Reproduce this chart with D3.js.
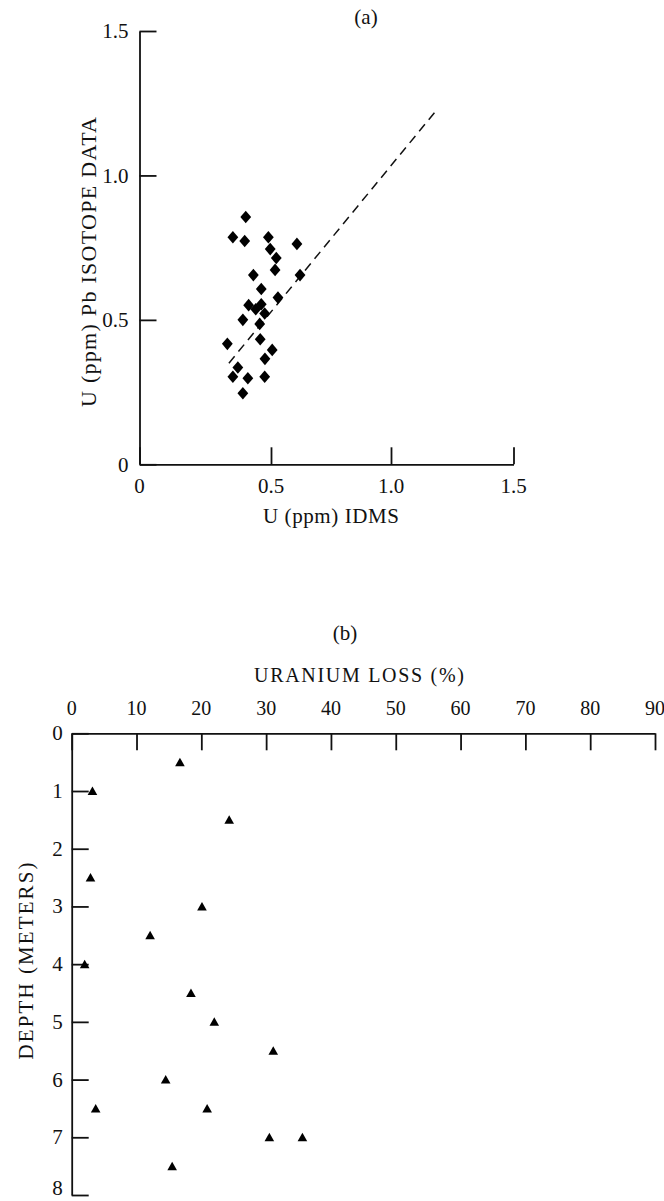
<!DOCTYPE html>
<html>
<head>
<meta charset="utf-8">
<script src="https://cdn.jsdelivr.net/npm/d3@7"></script>
<style>
  body { margin: 0; background: #fff; }
  svg { display: block; }
  text { font-family: "Liberation Serif", "Times New Roman", serif; fill: #111; }
  .axis path, .axis line { stroke: #111; stroke-width: 1.8; }
</style>
</head>
<body>
<svg id="fig" width="664" height="1201"></svg>
<script>
// ---- Panel (a): U from Pb isotope data vs. U by isotope dilution ----
const idmsU     = [0.404, 0.355, 0.400, 0.490, 0.497, 0.608, 0.522, 0.517, 0.621,
                   0.433, 0.463, 0.529, 0.415, 0.442, 0.463, 0.476, 0.393, 0.457,
                   0.459, 0.334, 0.505, 0.477, 0.374, 0.355, 0.412, 0.476, 0.393];
const isotopeU  = [0.856, 0.786, 0.773, 0.786, 0.745, 0.763, 0.714, 0.673, 0.655,
                   0.655, 0.607, 0.577, 0.551, 0.537, 0.554, 0.522, 0.500, 0.486,
                   0.433, 0.417, 0.396, 0.365, 0.335, 0.303, 0.298, 0.303, 0.246];
const trendX    = [0.34, 1.18];
const trendY    = [0.35, 1.22];
const aTicks    = [0, 0.5, 1.0, 1.5];
const aTickText = ["0", "0.5", "1.0", "1.5"];

// ---- Panel (b): uranium loss with depth ----
const lossPct   = [16.7, 3.2, 24.3, 2.9, 20.1, 12.1, 2.0, 18.4, 22.0, 31.1, 14.5, 3.7, 20.9, 30.5, 35.6, 15.5];
const depthM    = [0.5, 1.0, 1.5, 2.5, 3.0, 3.5, 4.0, 4.5, 5.0, 5.5, 6.0, 6.5, 6.5, 7.0, 7.0, 7.5];
const lossTicks = [0, 10, 20, 30, 40, 50, 60, 70, 80, 90];
const depthTicks = [0, 1, 2, 3, 4, 5, 6, 7, 8];

const W = 664, H = 1201;
const svg = d3.select("#fig");
const TICK = 17;

// ================= Panel (a) =================
// the printed x axis is slightly uneven, so the scale follows each tick
const xa = d3.scaleLinear().domain([0, 0.5, 1.0, 1.5]).range([139.5, 271, 391, 513.5]);
const ya = d3.scaleLinear().domain([0, 1.5]).range([464.3, 31]);

const gA = svg.append("g");

gA.append("g").attr("class", "axis")
  .attr("transform", `translate(${xa(0)},0)`)
  .call(d3.axisRight(ya).tickValues(aTicks).tickSize(TICK).tickSizeOuter(0).tickFormat(""));

gA.append("g").attr("class", "axis")
  .attr("transform", `translate(0,${ya(0)})`)
  .call(d3.axisTop(xa).tickValues(aTicks).tickSize(TICK).tickSizeOuter(0).tickFormat(""));

gA.selectAll("text.ytick").data(aTicks).join("text")
  .attr("class", "ytick")
  .attr("x", xa(0) - 11).attr("y", d => ya(d)).attr("dy", "0.35em")
  .attr("text-anchor", "end").style("font-size", "21px")
  .text((d, i) => aTickText[i]);

gA.selectAll("text.xtick").data(aTicks).join("text")
  .attr("class", "xtick")
  .attr("x", d => xa(d)).attr("y", 493)
  .attr("text-anchor", "middle").style("font-size", "21px")
  .text((d, i) => aTickText[i]);

gA.append("text")
  .attr("x", 366).attr("y", 24).attr("text-anchor", "middle")
  .style("font-size", "21px").text("(a)");

gA.append("text")
  .attr("x", 331).attr("y", 523).attr("text-anchor", "middle")
  .style("font-size", "21px")
  .attr("textLength", 136).attr("lengthAdjust", "spacing")
  .text("U (ppm) IDMS");

gA.append("text")
  .attr("transform", "translate(96,262) rotate(-90)")
  .attr("text-anchor", "middle")
  .style("font-size", "22px")
  .attr("textLength", 290).attr("lengthAdjust", "spacing")
  .text("U (ppm) Pb ISOTOPE DATA");

// dashed trend line
gA.append("line")
  .attr("x1", xa(trendX[0])).attr("y1", ya(trendY[0]))
  .attr("x2", xa(trendX[1])).attr("y2", ya(trendY[1]))
  .attr("stroke", "#111").attr("stroke-width", 1.5)
  .attr("stroke-dasharray", "9 6");

// filled diamonds
const diamond = "M0,-6.3L5.4,0L0,6.3L-5.4,0Z";
gA.selectAll("path.pt").data(idmsU).join("path")
  .attr("class", "pt")
  .attr("d", diamond)
  .attr("transform", (d, i) => `translate(${xa(d)},${ya(isotopeU[i])})`)
  .attr("fill", "#000");

// ================= Panel (b) =================
const xb = d3.scaleLinear().domain([0, 90]).range([71.7, 655]);
const yb = d3.scaleLinear().domain([0, 8]).range([733.3, 1195]);

const gB = svg.append("g");

gB.append("g").attr("class", "axis")
  .attr("transform", `translate(0,${yb(0)})`)
  .call(d3.axisBottom(xb).tickValues(lossTicks).tickSize(TICK).tickSizeOuter(0).tickFormat(""));

gB.append("g").attr("class", "axis")
  .attr("transform", `translate(${xb(0)},0)`)
  .call(d3.axisRight(yb).tickValues(depthTicks).tickSize(TICK).tickSizeOuter(0).tickFormat(""));

gB.selectAll("text.xtick").data(lossTicks).join("text")
  .attr("class", "xtick")
  .attr("x", d => xb(d)).attr("y", 715)
  .attr("text-anchor", "middle").style("font-size", "20px")
  .text(d => d);

// depth labels centred on their ticks; the last one is kept inside the page
gB.selectAll("text.ytick").data(depthTicks).join("text")
  .attr("class", "ytick")
  .attr("x", xb(0) - 9).attr("y", d => Math.min(yb(d) + 7, H - 6))
  .attr("text-anchor", "end").style("font-size", "21px")
  .text(d => d);

gB.append("text")
  .attr("x", 345).attr("y", 640).attr("text-anchor", "middle")
  .style("font-size", "21px").text("(b)");

gB.append("text")
  .attr("x", 359).attr("y", 682).attr("text-anchor", "middle")
  .style("font-size", "20px")
  .attr("textLength", 210).attr("lengthAdjust", "spacing")
  .text("URANIUM LOSS (%)");

gB.append("text")
  .attr("transform", "translate(33,961) rotate(-90)")
  .attr("text-anchor", "middle")
  .style("font-size", "21px")
  .attr("textLength", 197).attr("lengthAdjust", "spacing")
  .text("DEPTH (METERS)");

// filled triangles
const triangle = "M0,-4.5L4.8,4L-4.8,4Z";
gB.selectAll("path.pt").data(lossPct).join("path")
  .attr("class", "pt")
  .attr("d", triangle)
  .attr("transform", (d, i) => `translate(${xb(d)},${yb(depthM[i])})`)
  .attr("fill", "#000");
</script>
</body>
</html>
